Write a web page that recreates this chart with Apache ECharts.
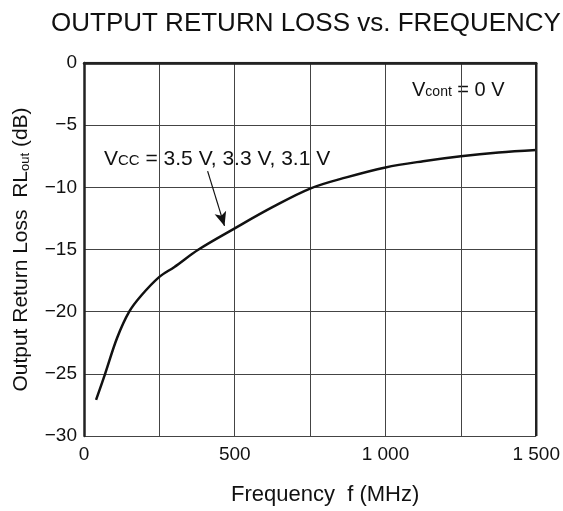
<!DOCTYPE html>
<html>
<head>
<meta charset="utf-8">
<script src="https://cdn.jsdelivr.net/npm/echarts@6/dist/echarts.min.js"></script>
<style>
  html, body { margin: 0; padding: 0; background: #fff; }
  #chart { width: 563px; height: 511px; }
</style>
</head>
<body>
<div id="chart"></div>
<script>
// values
var freq = [40, 70, 110, 150, 190, 250, 300, 380, 500, 625, 750, 870, 1000, 1125, 1250, 1375, 1500];
var rlOut = [-27.1, -25.0, -22.1, -20.0, -18.7, -17.2, -16.4, -15.0, -13.3, -11.6, -10.1, -9.2, -8.4, -7.9, -7.5, -7.2, -7.0];
var xTicks = {0: '0', 500: '500', 1000: '1 000', 1500: '1 500'};
var yTicks = {0: '0', '-5': '\u22125', '-10': '\u221210', '-15': '\u221215', '-20': '\u221220', '-25': '\u221225', '-30': '\u221230'};
// arrow from label to curve: [freq, dB]
var arrowFrom = [410, -8.7];
var arrowTo = [466, -13.1];

var font = 'Liberation Sans, Arial, sans-serif';
var chart = echarts.init(document.getElementById('chart'));

var pts = [];
for (var i = 0; i < freq.length; i++) pts.push([freq[i], rlOut[i]]);

var option = {
    animation: false,
    textStyle: { fontFamily: font, color: '#111' },
    title: {
        text: 'OUTPUT RETURN LOSS vs. FREQUENCY',
        left: 46, top: 6,
        textStyle: { fontFamily: font, fontSize: 26, fontWeight: 'normal', color: '#111' }
    },
    grid: { left: 84, right: 25, top: 63, bottom: 71 },
    xAxis: {
        type: 'value', min: 0, max: 1500, interval: 250,
        name: 'Frequency  f (MHz)', nameLocation: 'middle', nameGap: 48,
        nameTextStyle: { fontSize: 22, color: '#111', padding: [0, 0, 0, 30] },
        axisLine: { show: true, lineStyle: { color: '#222', width: 2.5 } },
        axisTick: { show: false },
        axisLabel: {
            fontSize: 19, color: '#111', margin: 9,
            formatter: function (v) { return xTicks[v] !== undefined ? xTicks[v] : ''; }
        },
        splitLine: { lineStyle: { color: '#444', width: 1 } }
    },
    yAxis: {
        type: 'value', min: -30, max: 0, interval: 5,
        name: '{n|Output Return Loss  RL}{s|out}{n| (dB)}', nameLocation: 'middle', nameGap: 52,
        nameRotate: 90,
        nameTextStyle: {
            rich: {
                n: { fontSize: 21, color: '#111', fontFamily: font },
                s: { fontSize: 13, color: '#111', fontFamily: font, padding: [7, 0, 0, 0] }
            }
        },
        axisLine: { show: true, lineStyle: { color: '#222', width: 2.5 } },
        axisTick: { show: false },
        axisLabel: {
            fontSize: 19, color: '#111', margin: 7,
            formatter: function (v) { return yTicks[v] !== undefined ? yTicks[v] : ''; }
        },
        splitLine: { lineStyle: { color: '#444', width: 1 } }
    },
    series: [
        {
            type: 'line',
            data: pts,
            smooth: 0.35,
            showSymbol: false,
            lineStyle: { color: '#111', width: 2.5 },
            markLine: {
                silent: true,
                symbol: ['none', 'arrow'],
                symbolSize: [9, 14],
                lineStyle: { color: '#111', width: 1.2, type: 'solid' },
                label: { show: false },
                data: [[{ coord: arrowFrom }, { coord: arrowTo }]]
            }
        },
        {
            // top and right frame
            type: 'line', silent: true, showSymbol: false,
            data: [[0, 0], [1500, 0], [1500, -30]],
            lineStyle: { color: '#222', width: 2.5 }
        }
    ],
    graphic: [
        {
            type: 'text', left: 104, top: 149,
            style: {
                text: '{v|V}{s|CC}{v| = 3.5 V, 3.3 V, 3.1 V}',
                rich: {
                    v: { fontSize: 21, fontFamily: font, fill: '#111' },
                    s: { fontSize: 15, fontFamily: font, fill: '#111', padding: [3, 0, 0, 0] }
                }
            }
        },
        {
            type: 'text', left: 412, top: 80,
            style: {
                text: '{v|V}{s|cont}{v| = 0 V}',
                rich: {
                    v: { fontSize: 20, fontFamily: font, fill: '#111' },
                    s: { fontSize: 14, fontFamily: font, fill: '#111', padding: [5, 0, 0, 0] }
                }
            }
        }
    ]
};
chart.setOption(option);
</script>
</body>
</html>
